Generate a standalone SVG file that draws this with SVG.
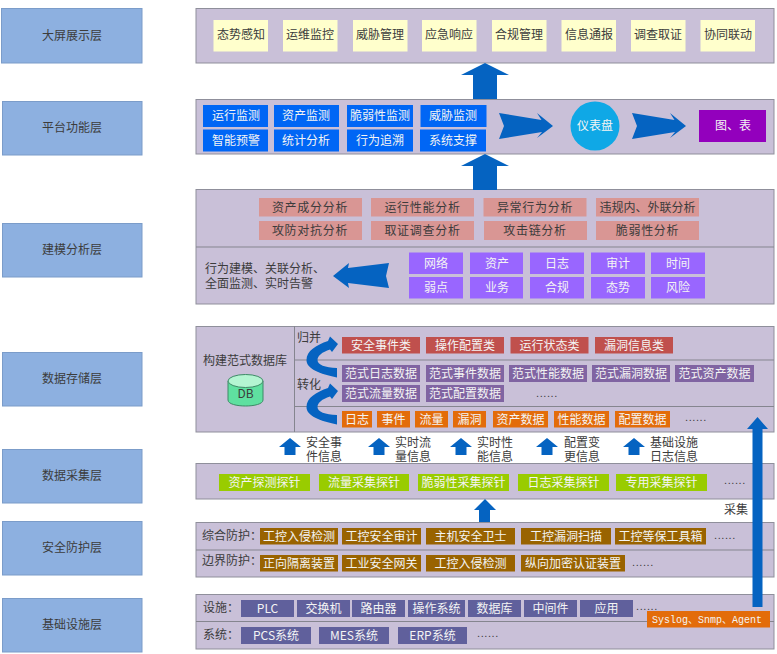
<svg xmlns="http://www.w3.org/2000/svg" width="777" height="654" viewBox="0 0 777 654">
<style>
text{font-family:"Noto Sans CJK SC","Liberation Sans",sans-serif;font-size:12px;fill:#3c3c3c;text-anchor:middle}
.l{text-anchor:start}
.w{fill:#f4f4f4}
.layer{fill:#8db0e0;stroke:#7b9cc9;stroke-width:1}
.panel{fill:#c9c0d8;stroke:#8f8f9b;stroke-width:1}
.div{stroke:#85858f;stroke-width:1;fill:none}
.y{fill:#ffffcc}.b{fill:#0066f5}.p{fill:#d99694}.v{fill:#9966ff}.r{fill:#c0504d}.m{fill:#8064a2}.o{fill:#e36c0a}.g{fill:#99cc00}.n{fill:#996300}.d{fill:#60609c}
.arrow{fill:#0563c1}
.dots{font-family:"Liberation Sans",sans-serif;font-size:11px;letter-spacing:.6px;text-anchor:start}
</style>
<defs>
<path id="up" d="M0 0L11 9H5.500V17H-5.500V9H-11Z"/>
<path id="fat" d="M0 0L24 12H12V36H-12V12H-24Z"/>
<path id="swoop" d="M337 377.500C320 374 306.500 369 306.500 360C306.500 351 316 345 328 341L330 336.500L338 344L332 352L330 349.500C322 352 317.500 356 317.500 360C317.500 365 325 367.500 337 368Z"/>
<path id="dart" d="M0 0L42.500 7L38 0L54 13L38 25L43 19L0 26L5 13Z"/>
</defs>

<g id="layers">
<g id="layer-screen"><rect class="layer" x="1.500" y="8.500" width="140.500" height="54.500"/><text x="72" y="40">大屏展示层</text></g>
<g id="layer-platform"><rect class="layer" x="2.500" y="101.500" width="139.500" height="53.500"/><text x="72" y="132">平台功能层</text></g>
<g id="layer-model"><rect class="layer" x="2.500" y="223.500" width="139.500" height="53.500"/><text x="72" y="254">建模分析层</text></g>
<g id="layer-storage"><rect class="layer" x="2.500" y="352.500" width="139.500" height="53.500"/><text x="72" y="383">数据存储层</text></g>
<g id="layer-collect"><rect class="layer" x="2.500" y="449.500" width="139.500" height="53.500"/><text x="72" y="480">数据采集层</text></g>
<g id="layer-defense"><rect class="layer" x="2.500" y="521.500" width="139.500" height="53.500"/><text x="72" y="552">安全防护层</text></g>
<g id="layer-infra"><rect class="layer" x="2.500" y="598.500" width="139.500" height="53.500"/><text x="72" y="629">基础设施层</text></g>
</g>

<g id="panels">
<rect class="panel" x="196" y="8.500" width="578" height="54.500"/>
<rect class="panel" x="196" y="99.500" width="578" height="54.500"/>
<rect class="panel" x="196" y="189.500" width="578" height="114.500"/>
<path class="div" d="M196 247H774"/>
<rect class="panel" x="196" y="326.500" width="578" height="105.500"/>
<path class="div" d="M294.500 326V432M294 360H774M294 406.500H774"/>
<rect class="panel" x="196" y="463.500" width="578" height="35.500"/>
<rect class="panel" x="196" y="522.500" width="578" height="54.500"/>
<path class="div" d="M196 550H774"/>
<rect class="panel" x="196" y="594.500" width="578" height="54.500"/>
<path class="div" d="M196 621.500H774"/>
</g>

<g id="screen-items">
<g id="s1"><rect class="y" x="213.500" y="20" width="54.500" height="31.500"/><text x="241" y="39">态势感知</text></g>
<g id="s2"><rect class="y" x="283" y="20" width="54.500" height="31.500"/><text x="310" y="39">运维监控</text></g>
<g id="s3"><rect class="y" x="353" y="20" width="54.500" height="31.500"/><text x="380" y="39">威胁管理</text></g>
<g id="s4"><rect class="y" x="422" y="20" width="54.500" height="31.500"/><text x="449" y="39">应急响应</text></g>
<g id="s5"><rect class="y" x="492" y="20" width="54.500" height="31.500"/><text x="519" y="39">合规管理</text></g>
<g id="s6"><rect class="y" x="561.500" y="20" width="54.500" height="31.500"/><text x="589" y="39">信息通报</text></g>
<g id="s7"><rect class="y" x="631" y="20" width="54.500" height="31.500"/><text x="658" y="39">调查取证</text></g>
<g id="s8"><rect class="y" x="700.500" y="20" width="54.500" height="31.500"/><text x="728" y="39">协同联动</text></g>
</g>

<g id="platform-items">
<g id="f1"><rect class="b" x="203" y="105" width="65" height="22"/><text class="w" x="236" y="120">运行监测</text></g>
<g id="f2"><rect class="b" x="274" y="105" width="65" height="22"/><text class="w" x="306" y="120">资产监测</text></g>
<g id="f3"><rect class="b" x="347" y="105" width="66" height="22"/><text class="w" x="380" y="120">脆弱性监测</text></g>
<g id="f4"><rect class="b" x="420.500" y="105" width="66" height="22"/><text class="w" x="453" y="120">威胁监测</text></g>
<g id="f5"><rect class="b" x="203" y="129.500" width="65" height="22"/><text class="w" x="236" y="144.500">智能预警</text></g>
<g id="f6"><rect class="b" x="274" y="129.500" width="65" height="22"/><text class="w" x="306" y="144.500">统计分析</text></g>
<g id="f7"><rect class="b" x="347" y="129.500" width="66" height="22"/><text class="w" x="380" y="144.500">行为追溯</text></g>
<g id="f8"><rect class="b" x="420" y="129.500" width="66" height="22"/><text class="w" x="453" y="144.500">系统支撑</text></g>
<g id="dashboard"><circle cx="595" cy="126" r="24.500" fill="#0fa8e6"/><text class="w" x="595" y="130">仪表盘</text></g>
<g id="charts"><rect fill="#9300bd" x="699" y="110" width="67" height="32"/><text class="w" x="733" y="130">图、表</text></g>
</g>

<g id="model-items">
<g id="m1"><rect class="p" x="259" y="198" width="103" height="18.500"/><text x="310" y="211.500" letter-spacing=".7">资产成分分析</text></g>
<g id="m2"><rect class="p" x="371" y="198" width="103" height="18.500"/><text x="422.500" y="211.500" letter-spacing=".7">运行性能分析</text></g>
<g id="m3"><rect class="p" x="483.500" y="198" width="103" height="18.500"/><text x="535" y="211.500" letter-spacing=".7">异常行为分析</text></g>
<g id="m4"><rect class="p" x="596" y="198" width="103" height="18.500"/><text x="647.500" y="211.500">违规内、外联分析</text></g>
<g id="m5"><rect class="p" x="259" y="221" width="103" height="19"/><text x="310" y="234.500" letter-spacing=".7">攻防对抗分析</text></g>
<g id="m6"><rect class="p" x="371" y="221" width="103" height="19"/><text x="422.500" y="234.500" letter-spacing=".7">取证调查分析</text></g>
<g id="m7"><rect class="p" x="484" y="221" width="103" height="19"/><text x="535" y="234.500" letter-spacing=".7">攻击链分析</text></g>
<g id="m8"><rect class="p" x="596" y="221" width="103" height="19"/><text x="647.500" y="234.500" letter-spacing=".7">脆弱性分析</text></g>
<g id="m-note"><text class="l" x="205" y="273">行为建模、关联分析、</text><text class="l" x="205" y="288">全面监测、实时告警</text></g>
<g id="v1"><rect class="v" x="409" y="252.500" width="54" height="21.500"/><text class="w" x="436" y="267.500">网络</text></g>
<g id="v2"><rect class="v" x="470" y="252.500" width="53" height="21.500"/><text class="w" x="497" y="267.500">资产</text></g>
<g id="v3"><rect class="v" x="530" y="252.500" width="54" height="21.500"/><text class="w" x="557" y="267.500">日志</text></g>
<g id="v4"><rect class="v" x="591" y="252.500" width="54" height="21.500"/><text class="w" x="618" y="267.500">审计</text></g>
<g id="v5"><rect class="v" x="651" y="252.500" width="54" height="21.500"/><text class="w" x="678" y="267.500">时间</text></g>
<g id="v6"><rect class="v" x="409" y="277" width="54" height="21.500"/><text class="w" x="436" y="292">弱点</text></g>
<g id="v7"><rect class="v" x="470" y="277" width="53" height="21.500"/><text class="w" x="497" y="292">业务</text></g>
<g id="v8"><rect class="v" x="530" y="277" width="54" height="21.500"/><text class="w" x="557" y="292">合规</text></g>
<g id="v9"><rect class="v" x="591" y="277" width="54" height="21.500"/><text class="w" x="618" y="292">态势</text></g>
<g id="v10"><rect class="v" x="651" y="277" width="54" height="21.500"/><text class="w" x="678" y="292">风险</text></g>
</g>

<g id="storage-items">
<g id="db-title"><text x="245" y="365">构建范式数据库</text></g>
<g id="db">
<path d="M228 381V400C228 408 263 408 263 400V381Z" fill="#5fe0a0" stroke="#3d8a66"/>
<ellipse cx="245.500" cy="381" rx="17.500" ry="6.500" fill="#b4f5d2" stroke="#3d8a66"/>
<text x="245.500" y="398" font-size="11">DB</text>
</g>
<text class="l" x="297" y="342">归并</text>
<text class="l" x="297" y="389">转化</text>
<g id="c1"><rect class="r" x="342" y="337" width="78" height="16.500"/><text class="w" x="381" y="349.500">安全事件类</text></g>
<g id="c2"><rect class="r" x="426" y="337" width="78" height="16.500"/><text class="w" x="465" y="349.500">操作配置类</text></g>
<g id="c3"><rect class="r" x="510.500" y="337" width="78" height="16.500"/><text class="w" x="549.500" y="349.500">运行状态类</text></g>
<g id="c4"><rect class="r" x="595" y="337" width="78" height="16.500"/><text class="w" x="634" y="349.500">漏洞信息类</text></g>
<g id="d1"><rect class="m" x="342" y="365" width="78" height="17"/><text class="w" x="381" y="378">范式日志数据</text></g>
<g id="d2"><rect class="m" x="426" y="365" width="78" height="17"/><text class="w" x="465" y="378">范式事件数据</text></g>
<g id="d3"><rect class="m" x="509" y="365" width="78" height="17"/><text class="w" x="548" y="378">范式性能数据</text></g>
<g id="d4"><rect class="m" x="592" y="365" width="78" height="17"/><text class="w" x="631" y="378">范式漏洞数据</text></g>
<g id="d5"><rect class="m" x="675" y="365" width="79" height="17"/><text class="w" x="714.500" y="378">范式资产数据</text></g>
<g id="d6"><rect class="m" x="342" y="385" width="78" height="17"/><text class="w" x="381" y="398">范式流量数据</text></g>
<g id="d7"><rect class="m" x="426" y="385" width="78" height="17"/><text class="w" x="465" y="398">范式配置数据</text></g>
<text class="dots" x="536" y="397">......</text>
<g id="o1"><rect class="o" x="342" y="411" width="30" height="16.500"/><text class="w" x="357" y="423.500">日志</text></g>
<g id="o2"><rect class="o" x="377" y="411" width="33" height="16.500"/><text class="w" x="393.500" y="423.500">事件</text></g>
<g id="o3"><rect class="o" x="415" y="411" width="33" height="16.500"/><text class="w" x="431.500" y="423.500">流量</text></g>
<g id="o4"><rect class="o" x="453" y="411" width="33" height="16.500"/><text class="w" x="469.500" y="423.500">漏洞</text></g>
<g id="o5"><rect class="o" x="493" y="411" width="55" height="16.500"/><text class="w" x="520.500" y="423.500">资产数据</text></g>
<g id="o6"><rect class="o" x="554" y="411" width="55" height="16.500"/><text class="w" x="581.500" y="423.500">性能数据</text></g>
<g id="o7"><rect class="o" x="615" y="411" width="55" height="16.500"/><text class="w" x="642.500" y="423.500">配置数据</text></g>
<text class="dots" x="685" y="421">......</text>
</g>

<g id="info-labels">
<text class="l" x="306" y="447">安全事</text><text class="l" x="306" y="461">件信息</text>
<text class="l" x="395" y="447">实时流</text><text class="l" x="395" y="461">量信息</text>
<text class="l" x="477" y="447">实时性</text><text class="l" x="477" y="461">能信息</text>
<text class="l" x="564" y="447">配置变</text><text class="l" x="564" y="461">更信息</text>
<text class="l" x="650" y="447">基础设施</text><text class="l" x="650" y="461">日志信息</text>
</g>

<g id="collect-items">
<g id="p1"><rect class="g" x="219" y="474" width="91" height="17"/><text class="w" x="264.500" y="487">资产探测探针</text></g>
<g id="p2"><rect class="g" x="319" y="474" width="90" height="17"/><text class="w" x="364" y="487">流量采集探针</text></g>
<g id="p3"><rect class="g" x="418" y="474" width="91" height="17"/><text class="w" x="463.500" y="487">脆弱性采集探针</text></g>
<g id="p4"><rect class="g" x="518" y="474" width="91" height="17"/><text class="w" x="563.500" y="487">日志采集探针</text></g>
<g id="p5"><rect class="g" x="616" y="474" width="91" height="17"/><text class="w" x="661.500" y="487">专用采集探针</text></g>
<text class="dots" x="724" y="484">......</text>
<text x="736" y="514">采集</text>
</g>

<g id="defense-items">
<text class="l" x="202" y="540">综合防护：</text>
<text class="l" x="202" y="565">边界防护：</text>
<g id="n1"><rect class="n" x="260" y="528" width="78" height="16.500"/><text class="w" x="299" y="540.500">工控入侵检测</text></g>
<g id="n2"><rect class="n" x="342" y="528" width="79" height="16.500"/><text class="w" x="381.500" y="540.500">工控安全审计</text></g>
<g id="n3"><rect class="n" x="426" y="528" width="89" height="16.500"/><text class="w" x="470.500" y="540.500">主机安全卫士</text></g>
<g id="n4"><rect class="n" x="521" y="528" width="90" height="16.500"/><text class="w" x="566" y="540.500">工控漏洞扫描</text></g>
<g id="n5"><rect class="n" x="615" y="528" width="91" height="16.500"/><text class="w" x="660.500" y="540.500">工控等保工具箱</text></g>
<text class="dots" x="714" y="539">......</text>
<g id="n6"><rect class="n" x="260" y="555" width="78" height="16.500"/><text class="w" x="299" y="567.500">正向隔离装置</text></g>
<g id="n7"><rect class="n" x="342" y="555" width="79" height="16.500"/><text class="w" x="381.500" y="567.500">工业安全网关</text></g>
<g id="n8"><rect class="n" x="426" y="555" width="89" height="16.500"/><text class="w" x="470.500" y="567.500">工控入侵检测</text></g>
<g id="n9"><rect class="n" x="521" y="555" width="104" height="16.500"/><text class="w" x="573" y="567.500">纵向加密认证装置</text></g>
<text class="dots" x="632" y="566">......</text>
</g>

<g id="infra-items">
<text class="l" x="203" y="612">设施：</text>
<text class="l" x="203" y="639">系统：</text>
<g id="i1"><rect class="d" x="241" y="600" width="53" height="17"/><text class="w" x="267.500" y="612.500">PLC</text></g>
<g id="i2"><rect class="d" x="297" y="600" width="53" height="17"/><text class="w" x="323.500" y="612.500">交换机</text></g>
<g id="i3"><rect class="d" x="352" y="600" width="53" height="17"/><text class="w" x="378.500" y="612.500">路由器</text></g>
<g id="i4"><rect class="d" x="408" y="600" width="57" height="17"/><text class="w" x="436.500" y="612.500">操作系统</text></g>
<g id="i5"><rect class="d" x="468" y="600" width="53" height="17"/><text class="w" x="494.500" y="612.500">数据库</text></g>
<g id="i6"><rect class="d" x="524" y="600" width="53" height="17"/><text class="w" x="550.500" y="612.500">中间件</text></g>
<g id="i7"><rect class="d" x="580" y="600" width="53" height="17"/><text class="w" x="606.500" y="612.500">应用</text></g>
<text class="dots" x="636" y="610">......</text>
<g id="i8"><rect class="d" x="241" y="627" width="70" height="17"/><text class="w" x="276" y="639.500">PCS系统</text></g>
<g id="i9"><rect class="d" x="319" y="627" width="70" height="17"/><text class="w" x="354" y="639.500">MES系统</text></g>
<g id="i10"><rect class="d" x="398" y="627" width="69" height="17"/><text class="w" x="432.500" y="639.500">ERP系统</text></g>
<text class="dots" x="477" y="637">......</text>
</g>

<g id="connectors">
<use class="arrow" href="#fat" transform="translate(485 63)"/>
<use class="arrow" href="#fat" transform="translate(485 154)"/>
<use class="arrow" href="#dart" transform="translate(499 113)"/>
<use class="arrow" href="#dart" transform="translate(632 113)"/>
<path class="arrow" d="M333 276L349 263L348 268L389 263L386 276L389 288L348 283L349 288Z"/>
<use class="arrow" href="#swoop"/>
<use class="arrow" href="#swoop" transform="translate(0 47)"/>
<use class="arrow" href="#up" transform="translate(290 438)"/>
<use class="arrow" href="#up" transform="translate(379 438)"/>
<use class="arrow" href="#up" transform="translate(461 438)"/>
<use class="arrow" href="#up" transform="translate(547 438)"/>
<use class="arrow" href="#up" transform="translate(634 438)"/>
<path class="arrow" d="M485 499L496 510H490V522H479V510H474Z"/>
<path class="arrow" d="M757.500 417L768 429H762.500V607H752.500V429H747Z"/>
</g>

<g id="syslog"><rect x="647" y="611" width="123" height="16.500" fill="#e36c0a"/><text x="707" y="623" class="w" style="font-family:'Liberation Mono','Noto Sans CJK SC',monospace;font-size:10px">Syslog、Snmp、Agent</text></g>
</svg>
